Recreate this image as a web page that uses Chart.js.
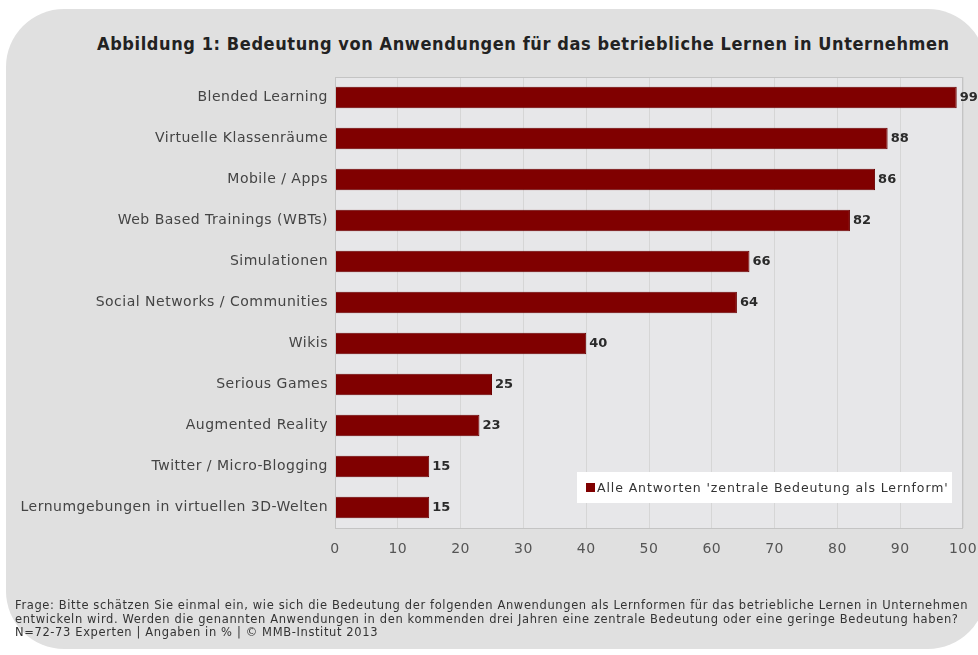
<!DOCTYPE html>
<html>
<head>
<meta charset="utf-8">
<script src="https://cdn.jsdelivr.net/npm/chart.js@4/dist/chart.umd.min.js"></script>
<style>
  html, body { margin: 0; padding: 0; background: #fff; }
  #wrap { position: relative; width: 978px; height: 655px; overflow: hidden; }
  #panel { position: absolute; left: 6px; top: 9px; width: 980px; height: 640px; border-radius: 58px; background: #e0e0e0; }
  #title { position: absolute; left: 97px; top: 33px; font: bold 18px "DejaVu Sans Condensed", sans-serif; letter-spacing: 0.6px; color: #222; white-space: nowrap; }
  #note { position: absolute; left: 15px; top: 599px; font: 11.5px "DejaVu Sans", sans-serif; letter-spacing: 0.62px; color: #333; line-height: 13.5px; white-space: nowrap; }
  canvas { position: absolute; left: 0; top: 0; }
</style>
</head>
<body>
<div id="wrap">
  <div id="panel"></div>
  <div id="title">Abbildung 1: Bedeutung von Anwendungen für das betriebliche Lernen in Unternehmen</div>
  <canvas id="chart" width="978" height="655"></canvas>
  <div id="note">Frage: Bitte schätzen Sie einmal ein, wie sich die Bedeutung der folgenden Anwendungen als Lernformen für das betriebliche Lernen in Unternehmen<br>entwickeln wird. Werden die genannten Anwendungen in den kommenden drei Jahren eine zentrale Bedeutung oder eine geringe Bedeutung haben?<br>N=72-73 Experten | Angaben in % | © MMB-Institut 2013</div>
</div>
<script>
const categories = [
  'Blended Learning',
  'Virtuelle Klassenräume',
  'Mobile / Apps',
  'Web Based Trainings (WBTs)',
  'Simulationen',
  'Social Networks / Communities',
  'Wikis',
  'Serious Games',
  'Augmented Reality',
  'Twitter / Micro-Blogging',
  'Lernumgebungen in virtuellen 3D-Welten'
];
const values = [99, 88, 86, 82, 66, 64, 40, 25, 23, 15, 15];
const seriesName = "Alle Antworten 'zentrale Bedeutung als Lernform'";
const xTicks = [0, 10, 20, 30, 40, 50, 60, 70, 80, 90, 100];

const barColor = '#800000';

// plot area background + frame, wider letters for axis text
const plotBg = {
  id: 'plotBg',
  beforeDraw(chart) {
    const { ctx, chartArea: a } = chart;
    ctx.letterSpacing = '0.5px';
    ctx.save();
    ctx.fillStyle = '#e7e7e9';
    ctx.fillRect(a.left, a.top, a.right - a.left, a.bottom - a.top);
    ctx.restore();
  },
  afterDatasetsDraw(chart) {
    const { ctx, chartArea: a } = chart;
    ctx.save();
    ctx.strokeStyle = '#c4c4c4';
    ctx.lineWidth = 1;
    ctx.strokeRect(a.left + 0.5, a.top + 0.5, a.right - a.left - 1, a.bottom - a.top);
    ctx.restore();
  }
};

// value labels at bar ends
const valueLabels = {
  id: 'valueLabels',
  afterDatasetsDraw(chart) {
    const { ctx } = chart;
    const meta = chart.getDatasetMeta(0);
    ctx.save();
    ctx.letterSpacing = '0px';
    ctx.font = 'bold 13px "DejaVu Sans", sans-serif';
    ctx.fillStyle = '#2a2a2a';
    ctx.textBaseline = 'middle';
    meta.data.forEach((bar, i) => {
      ctx.fillText(String(values[i]), bar.x + 3, bar.y);
    });
    ctx.restore();
  }
};

// legend box inside plot, bottom right
const legendBox = {
  id: 'legendBox',
  afterDraw(chart) {
    const { ctx, chartArea: a } = chart;
    const x = a.right - 386, y = a.bottom - 56, w = 375, h = 31;
    ctx.save();
    ctx.fillStyle = '#ffffff';
    ctx.fillRect(x, y, w, h);
    ctx.fillStyle = barColor;
    ctx.fillRect(x + 9, y + 11, 9, 9);
    ctx.letterSpacing = '0.9px';
    ctx.font = '12.5px "DejaVu Sans", sans-serif';
    ctx.fillStyle = '#333';
    ctx.textBaseline = 'middle';
    ctx.fillText(chart.data.datasets[0].label, x + 20, y + h / 2 + 1);
    ctx.restore();
  }
};

new Chart(document.getElementById('chart'), {
  type: 'bar',
  data: {
    labels: categories,
    datasets: [{
      label: seriesName,
      data: values,
      backgroundColor: barColor,
      borderColor: '#6a0000',
      borderWidth: 1,
      categoryPercentage: 0.55,
      barPercentage: 0.95
    }]
  },
  options: {
    indexAxis: 'y',
    responsive: false,
    animation: false,
    layout: { padding: { top: 77, right: 15, bottom: 87, left: 0 } },
    plugins: { legend: { display: false }, tooltip: { enabled: false } },
    scales: {
      x: {
        min: 0, max: 100,
        afterBuildTicks(scale) { scale.ticks = xTicks.map(v => ({ value: v })); },
        grid: { color: '#d6d6d6', drawTicks: false },
        border: { display: false },
        ticks: { color: '#555', padding: 13, font: { family: 'DejaVu Sans', size: 14 } },
        afterFit(scale) { scale.height = 40; scale.paddingRight = 0; scale.paddingLeft = 0; }
      },
      y: {
        grid: { display: false, drawTicks: false },
        border: { display: false },
        ticks: { color: '#444', padding: 7, font: { family: 'DejaVu Sans', size: 14 } },
        afterFit(scale) { scale.width = 335; }
      }
    }
  },
  plugins: [plotBg, valueLabels, legendBox]
});
</script>
</body>
</html>
